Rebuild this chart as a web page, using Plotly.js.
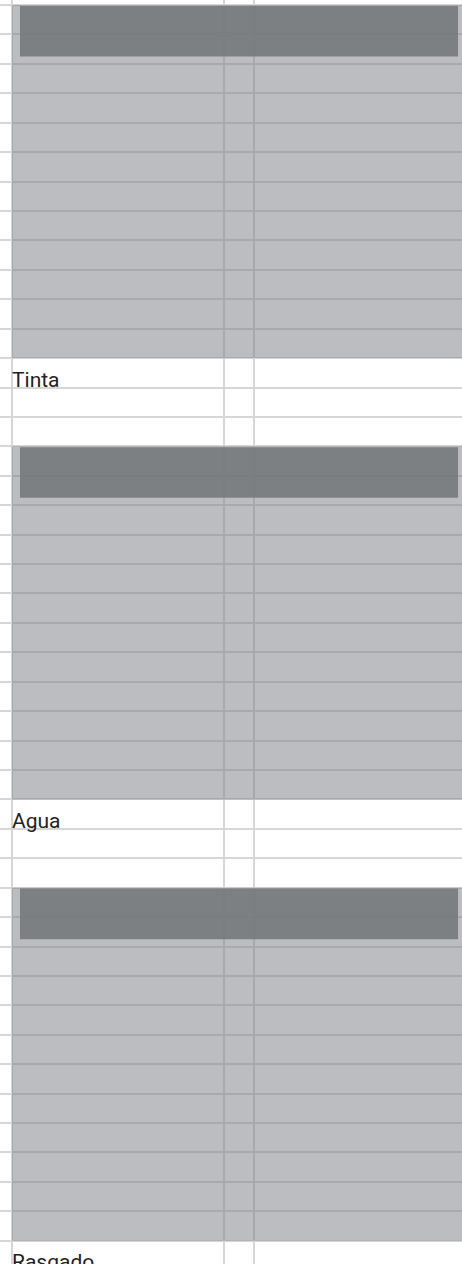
<!DOCTYPE html>
<html>
<head>
<meta charset="utf-8">
<script src="https://cdn.plot.ly/plotly-3.0.1.min.js"></script>
<style>html,body{margin:0;padding:0;background:#fff;}#chart{width:462px;height:1264px;}</style>
</head>
<body>
<div id="chart"></div>
<script>
// Data
var categories = ["Tinta", "Agua", "Rasgado"];
var blockStartRows = [0, 15, 30];
var blockRowCounts = [12, 12, 12];
var headerRowCounts = [1.75, 1.75, 1.75];
var xTickValues = [0, 7, 8];
var xExtent = [0, 15];

var shapes = [];
var annotations = [];
for (var i = 0; i < categories.length; i++) {
  var s = blockStartRows[i];
  shapes.push({
    type: 'rect', xref: 'x', yref: 'y', layer: 'above',
    x0: xExtent[0], x1: xExtent[1], y0: s, y1: s + blockRowCounts[i],
    fillcolor: 'rgb(121,123,131)', opacity: 0.5, line: {width: 0}
  });
  shapes.push({
    type: 'rect', xref: 'x', yref: 'y', layer: 'above',
    x0: xExtent[0] + 0.264, x1: xExtent[1] - 0.28, y0: s + 0.03, y1: s + headerRowCounts[i],
    fillcolor: 'rgb(118,121,124)', opacity: 0.9, line: {width: 0}
  });
  annotations.push({
    xref: 'x', yref: 'y', x: xExtent[0], y: s + blockRowCounts[i],
    xanchor: 'left', yanchor: 'top', yshift: -7.5, xshift: -2,
    text: categories[i], showarrow: false,
    font: {family: 'Roboto', size: 21, color: '#222'}
  });
}

var layout = {
  width: 462, height: 1264,
  margin: {l: 0, r: 0, t: 0, b: 0, pad: 0},
  paper_bgcolor: '#fff', plot_bgcolor: '#fff',
  showlegend: false,
  xaxis: {
    range: [-0.396, 14.85], tickvals: xTickValues, showticklabels: false,
    showgrid: true, gridcolor: '#d6d6d6', gridwidth: 2, zeroline: false, showline: false, ticks: ''
  },
  yaxis: {
    range: [42.79, -0.17], dtick: 1, tick0: 0, showticklabels: false,
    showgrid: true, gridcolor: '#d6d6d6', gridwidth: 2, zeroline: false, showline: false, ticks: ''
  },
  shapes: shapes,
  annotations: annotations
};

Plotly.newPlot('chart', [{x: [], y: [], type: 'scatter'}], layout, {displayModeBar: false, staticPlot: true});
</script>
</body>
</html>
